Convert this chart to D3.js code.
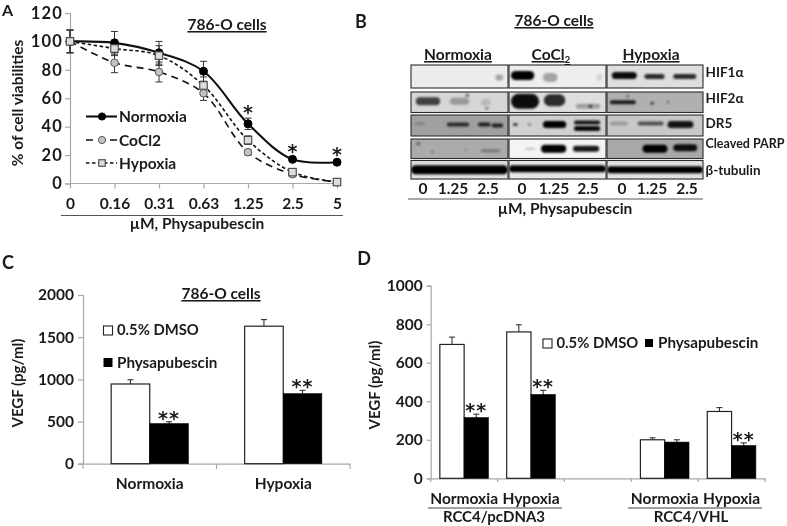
<!DOCTYPE html>
<html><head><meta charset="utf-8">
<script src="https://cdn.jsdelivr.net/npm/d3@7/dist/d3.min.js"></script>
<style>
html,body{margin:0;padding:0;background:#fff}
svg{display:block;filter:blur(0.4px)}
text{font-family:"Lato",sans-serif;font-weight:700;fill:#1a1a1a}
text.star{font-family:"DejaVu Sans",sans-serif}
</style></head><body>
<svg id="c" width="787" height="526"></svg>
<script>
// Panel A
const doses = ["0","0.16","0.31","0.63","1.25","2.5","5"];
const normoxiaV = [100,99,92,79,42,17,15];
const normoxiaE = [8,8,8,7,4,1.5,1.5];
const cocl2V = [100,85,78.5,63.5,22,6.5,1];
const cocl2E = [8,7,7,5,2,1,1];
const hypoxiaV = [100,95,90,69,30.5,8,1];
const hypoxiaE = [8,5,7,6,3,1,1];
const viabilityTicks = [0,20,40,60,80,100,120];
const starDoses = ["1.25","2.5","5"];
// Panel B
const blotGroups = ["Normoxia","CoCl2","Hypoxia"];
const blotRows = ["HIF1α","HIF2α","DR5","Cleaved PARP","β-tubulin"];
const blotLanes = ["0","1.25","2.5"];
const blotShades = [[236,238,222],[214,222,176],[160,208,200],[171,244,168],[224,232,226]];
// row, group, from, to (fraction of gel width), darkness, thickness, vertical offset
const blotBands = [
 [0,0,.87,.95,.3,6,1],
 [0,1,.02,.26,1,9,-1],[0,1,.35,.5,.3,9,1],[0,1,.9,.96,.1,7,1],
 [0,2,.05,.31,.95,7,-1],[0,2,.39,.6,.8,5,0],[0,2,.69,.93,.8,5,0],
 [1,0,.05,.3,.7,8,-1],[1,0,.4,.6,.28,7,-1],[1,0,.72,.82,.13,7,0],[1,0,.56,.6,.5,3,-7],[1,0,.76,.8,.5,2,6],
 [1,1,.02,.31,.95,15,-1],[1,1,.36,.58,.8,12,-2],[1,1,.69,.94,.28,5,4],[1,1,.82,.86,.6,3,4],
 [1,2,.03,.3,.85,4,0],[1,2,.45,.49,.6,3,1],[1,2,.2,.23,.6,2,-6],[1,2,.62,.65,.5,2,0],
 [2,0,.04,.14,.25,2,-2],[2,0,.37,.6,.75,4,-1],[2,0,.69,.82,.8,4,-1],[2,0,.83,.95,.8,4,0],
 [2,1,.04,.09,.7,3,-1],[2,1,.19,.23,.4,2,-1],[2,1,.35,.59,1,7,-1],[2,1,.67,.94,.9,4,-3],[2,1,.67,.94,.95,5,3],
 [2,2,.03,.22,.22,4,-2],[2,2,.32,.59,.6,4,-2],[2,2,.63,.9,.9,7,-1],
 [3,0,.72,.92,.3,3,2],[3,0,.05,.1,.4,3,-5],[3,0,.2,.24,.3,2,3],[3,0,.55,.58,.25,2,1],
 [3,1,.17,.27,.22,2,0],[3,1,.33,.59,1,8,0],[3,1,.66,.93,.9,6,0],
 [3,2,.37,.63,1,8,0],[3,2,.69,.94,.92,7,-1],
 [4,0,0,1,1,9,0],[4,1,0,1,1,7,-1],[4,2,0,1,1,7,0]
];
// Panel C
const vegfCats = ["Normoxia","Hypoxia"];
const vegfCDmso = [945,1630];
const vegfCDmsoE = [50,78];
const vegfCPhy = [475,830];
const vegfCPhyE = [22,40];
const vegfCTicks = [0,500,1000,1500,2000];
// Panel D
const vegfDCats = ["pcN","pcH","gap","vhlN","vhlH"];
const vegfDLabels = ["Normoxia","Hypoxia","","Normoxia","Hypoxia"];
const vegfDDmso = [695,760,null,200,347];
const vegfDDmsoE = [38,37,null,10,20];
const vegfDPhy = [315,435,null,188,170];
const vegfDPhyE = [18,22,null,12,14];
const vegfDTicks = [0,200,400,600,800,1000];

const svg = d3.select("#c");
const defs = svg.append("defs");
defs.append("filter").attr("id","bl").attr("x","-30%").attr("y","-150%").attr("width","160%").attr("height","400%")
  .append("feGaussianBlur").attr("stdDeviation",1.2);

function label(x,y,s,size,opt={}){
  const t = svg.append("text").attr("x",x).attr("y",y).text(s)
    .attr("font-size",size).attr("text-anchor",opt.anchor||"middle");
  if(opt.underline) t.style("text-decoration","underline");
  if(opt.rotate) t.attr("transform",`rotate(-90 ${x} ${y})`);
  if(opt.ls) t.style("letter-spacing",opt.ls+"px");
  if(opt.cls) t.attr("class",opt.cls);
  return t;
}
function rule(x1,x2,y,c="#444",w=1){svg.append("line").attr("x1",x1).attr("x2",x2).attr("y1",y).attr("y2",y).attr("stroke",c).attr("stroke-width",w);}
function styleAxis(g,size,ls){
  g.selectAll(".domain,.tick line").attr("stroke","#a8a8a8").attr("stroke-width",1.2);
  g.selectAll("text").attr("font-size",size).attr("fill","#1a1a1a").style("font-family",'"Lato",sans-serif').style("font-weight",700);
  if(ls) g.selectAll("text").style("letter-spacing",ls+"px");
}
function errBars(g,x,yScale,v,e,cap=3,col="#222"){
  if(v==null) return;
  const p=d3.path();
  p.moveTo(x,yScale(v+e));p.lineTo(x,yScale(v-e));
  p.moveTo(x-cap,yScale(v+e));p.lineTo(x+cap,yScale(v+e));
  p.moveTo(x-cap,yScale(v-e));p.lineTo(x+cap,yScale(v-e));
  g.append("path").attr("d",p.toString()).attr("fill","none").attr("stroke",col).attr("stroke-width",1);
}

// ---------- A
const ax = d3.scalePoint().domain(doses).range([70,337]);
const ay = d3.scaleLinear().domain([0,120]).range([183.5,13]);
const gA = svg.append("g");
const ayG = gA.append("g").attr("transform","translate(70,0)").call(d3.axisLeft(ay).tickValues(viabilityTicks).tickSize(5).tickPadding(2));
styleAxis(ayG,16.5,1.2);
const axG = gA.append("g").attr("transform","translate(0,183.5)").call(d3.axisBottom(ax).tickSize(5).tickPadding(9));
styleAxis(axG,15.5);
axG.select(".domain").attr("d","M70,0H337");
const series = [
 {v:normoxiaV,e:normoxiaE,dash:null,w:2.1},
 {v:cocl2V,e:cocl2E,dash:"7,5",w:1.6},
 {v:hypoxiaV,e:hypoxiaE,dash:"3.5,2.5",w:1.6}
];
const line = d3.line().x((d,i)=>ax(doses[i])).y(d=>ay(d)).curve(d3.curveCatmullRom.alpha(.5));
series.forEach(s=>{ s.v.forEach((d,i)=>errBars(gA,ax(doses[i]),ay,d,s.e[i],3.5,"#333")); });
series.forEach(s=>{
  gA.append("path").attr("d",line(s.v)).attr("fill","none").attr("stroke","#111").attr("stroke-width",s.w).attr("stroke-dasharray",s.dash);
});
function mCircle(x,y,r,f,st){gA.append("circle").attr("cx",x).attr("cy",y).attr("r",r).attr("fill",f).attr("stroke",st).attr("stroke-width",1);}
function mSquare(x,y,a){gA.append("rect").attr("x",x-a/2).attr("y",y-a/2).attr("width",a).attr("height",a).attr("fill","#ddd").attr("stroke","#444").attr("stroke-width",1.1);}
normoxiaV.forEach((d,i)=>mCircle(ax(doses[i]),ay(d),4,"#000","#000"));
cocl2V.forEach((d,i)=>mCircle(ax(doses[i]),ay(d),3.8,"#c4c4c4","#555"));
hypoxiaV.forEach((d,i)=>mSquare(ax(doses[i]),ay(d),7.5));
starDoses.forEach(d=>{
  const i=doses.indexOf(d);
  label(ax(d),ay(normoxiaV[i]+normoxiaE[i])+1,"*",19,{cls:"star"});
});
label(227,30,"786-O cells",15.5,{underline:true});
label(23,103,"% of cell viabilities",15.5,{rotate:true});
label(197,229,"µM, Physapubescin",15.5);
rule(61,343,215.5,"#555",1);
label(2,16,"A",16,{anchor:"start"});
// legend A
const lx=[86,117];
gA.append("line").attr("x1",lx[0]).attr("x2",lx[1]).attr("y1",116.5).attr("y2",116.5).attr("stroke","#111").attr("stroke-width",2.1);
mCircle(102,116.5,3.6,"#000","#000");
gA.append("line").attr("x1",lx[0]).attr("x2",lx[1]).attr("y1",140).attr("y2",140).attr("stroke","#111").attr("stroke-width",1.6).attr("stroke-dasharray","7,17,7");
mCircle(102,140,3.6,"#c4c4c4","#555");
gA.append("line").attr("x1",lx[0]).attr("x2",lx[1]).attr("y1",163).attr("y2",163).attr("stroke","#111").attr("stroke-width",1.6).attr("stroke-dasharray","3.5,2.5");
mSquare(102,163,6.5);
["Normoxia","CoCl2","Hypoxia"].forEach((s,i)=>label(119,[121.5,145.5,168.5][i],s,15.5,{anchor:"start"}));

// ---------- B
const gelX = [[411,508],[509,606],[607,703]];
const rowFrame = [[65,88],[92,112.5],[115,136],[139,158.5],[160.5,179]];
const gB = svg.append("g");
blotRows.forEach((r,ri)=>{
  blotGroups.forEach((g,gi)=>{
    const [x0,x1]=gelX[gi],[y0,y1]=rowFrame[ri];
    const sc=d3.scaleLinear().domain([0,1]).range([x0,x1]);
    const id=`clip${ri}${gi}`;
    defs.append("clipPath").attr("id",id).append("rect").attr("x",x0).attr("y",y0).attr("width",x1-x0).attr("height",y1-y0);
    const cell=gB.append("g").attr("clip-path",`url(#${id})`);
    const sh=blotShades[ri][gi];
    cell.append("rect").attr("x",x0).attr("y",y0).attr("width",x1-x0).attr("height",y1-y0).attr("fill",d3.rgb(sh,sh,sh));
    blotBands.filter(b=>b[0]===ri&&b[1]===gi).forEach(b=>{
      const th=b[5];
      cell.append("rect").attr("x",sc(b[2])).attr("width",sc(b[3])-sc(b[2]))
        .attr("y",(y0+y1)/2-th/2+b[6]).attr("height",th).attr("rx",th/2)
        .attr("fill","#000").attr("opacity",b[4]).attr("filter","url(#bl)");
    });
    gB.append("rect").attr("x",x0).attr("y",y0).attr("width",x1-x0).attr("height",y1-y0).attr("fill","none").attr("stroke","#2a2a2a").attr("stroke-width",1.1);
  });
});
const blotCenters = [[423,453,488],[522,554,588],[622,652,687]];
const groupX = [458,551,651];
blotGroups.forEach((g,gi)=>{
  const t=label(groupX[gi],60,"",15.5,{underline:true});
  if(g==="CoCl2"){t.append("tspan").text("CoCl");t.append("tspan").text("2").attr("font-size",10).attr("dy",3);}
  else t.text(g);
  blotLanes.forEach((l,li)=>label(blotCenters[gi][li],194,l,15.5));
});
const rowLabelY=[77,103,128,148,175];
blotRows.forEach((r,i)=>label(705.5,rowLabelY[i],r,i===3?12.5:13.5,{anchor:"start"}));
rule(408,703,199,"#555",1);
label(565,214,"µM, Physapubescin",15.5);
label(554,26,"786-O cells",15.5,{underline:true});
label(361,28,"B",18);

// ---------- C
const cx = d3.scaleBand().domain(vegfCats).range([83,350]);
const cbar = d3.scaleBand().domain(["d","p"]).range([0,cx.bandwidth()]).paddingInner(0).paddingOuter(.73);
const cy = d3.scaleLinear().domain([0,2000]).range([463.7,295]);
const gC = svg.append("g");
const cyG=gC.append("g").attr("transform","translate(83,0)").call(d3.axisLeft(cy).tickValues(vegfCTicks).tickFormat(d3.format("d")).tickSize(5).tickPadding(4));
styleAxis(cyG,15.5);
const cxG=gC.append("g").attr("transform","translate(0,463.7)").call(d3.axisBottom(cx).tickSize(0).tickPadding(14));
styleAxis(cxG,15.5);
[83,cx("Hypoxia"),350].forEach(x=>gC.append("line").attr("x1",x).attr("x2",x).attr("y1",463.7).attr("y2",469).attr("stroke","#a8a8a8").attr("stroke-width",1.2));
function bars(g,xs,sub,y,cats,dm,dmE,ph,phE,stars,sw){
  cats.forEach((c,i)=>{
    if(dm[i]==null) return;
    const x=xs(c);
    errBars(g,x+sub("d")+sub.bandwidth()/2,y,dm[i],dmE[i],sw);
    errBars(g,x+sub("p")+sub.bandwidth()/2,y,ph[i],phE[i],sw);
    g.append("rect").attr("x",x+sub("d")).attr("y",y(dm[i])).attr("width",sub.bandwidth()).attr("height",y(0)-y(dm[i])).attr("fill","#fff").attr("stroke","#222").attr("stroke-width",1.2);
    g.append("rect").attr("x",x+sub("p")).attr("y",y(ph[i])).attr("width",sub.bandwidth()).attr("height",y(0)-y(ph[i])).attr("fill","#000").attr("stroke","#000").attr("stroke-width",.6);
    if(stars[i]) label(x+sub("p")+sub.bandwidth()/2,y(ph[i]+phE[i])+3,"**",19,{ls:1,cls:"star"});
  });
}
bars(gC,cx,cbar,cy,vegfCats,vegfCDmso,vegfCDmsoE,vegfCPhy,vegfCPhyE,[1,1],3);
label(221,299,"786-O cells",15.5,{underline:true});
label(23,383,"VEGF (pg/ml)",15,{rotate:true});
label(2,269,"C",18,{anchor:"start"});
gC.append("rect").attr("x",103.5).attr("y",326).attr("width",9).attr("height",9).attr("fill","#fff").attr("stroke","#222").attr("stroke-width",1.1);
gC.append("rect").attr("x",103.5).attr("y",358).attr("width",9).attr("height",9).attr("fill","#000");
label(117,335,"0.5% DMSO",14.8,{anchor:"start"});
label(117,368,"Physapubescin",15.2,{anchor:"start"});

// ---------- D
const dx = d3.scaleBand().domain(vegfDCats).range([430.7,765]);
const dbar = d3.scaleBand().domain(["d","p"]).range([0,dx.bandwidth()]).paddingInner(0).paddingOuter(.376);
const dy = d3.scaleLinear().domain([0,1000]).range([478.3,285.7]);
const gD = svg.append("g");
const dyG=gD.append("g").attr("transform","translate(430.7,0)").call(d3.axisLeft(dy).tickValues(vegfDTicks).tickFormat(d3.format("d")).tickSize(4).tickPadding(4));
styleAxis(dyG,15.5);
const dxG=gD.append("g").attr("transform","translate(0,478.3)").call(d3.axisBottom(dx).tickSize(0).tickFormat(()=>""));
styleAxis(dxG,15);
vegfDCats.forEach(c=>gD.append("line").attr("x1",dx(c)).attr("x2",dx(c)).attr("y1",478.3).attr("y2",482).attr("stroke","#a8a8a8").attr("stroke-width",1.2));
gD.append("line").attr("x1",765).attr("x2",765).attr("y1",478.3).attr("y2",482).attr("stroke","#a8a8a8").attr("stroke-width",1.2);
bars(gD,dx,dbar,dy,vegfDCats,vegfDDmso,vegfDDmsoE,vegfDPhy,vegfDPhyE,[1,1,0,0,1],3);
vegfDLabels.forEach((l,i)=>{ if(l) label(dx(vegfDCats[i])+dx.bandwidth()/2,504,l,15.5); });
rule(428,562,508,"#444",1);
rule(628,762,508,"#444",1);
label(494,522,"RCC4/pcDNA3",15);
label(691,522,"RCC4/VHL",15);
label(380,385,"VEGF (pg/ml)",15,{rotate:true});
label(364,265,"D",18);
gD.append("rect").attr("x",543).attr("y",339).attr("width",9).attr("height",9).attr("fill","#fff").attr("stroke","#222").attr("stroke-width",1.1);
gD.append("rect").attr("x",645).attr("y",339).attr("width",8).attr("height",8).attr("fill","#000");
label(556.5,348,"0.5% DMSO",14.8,{anchor:"start"});
label(658,348,"Physapubescin",15.2,{anchor:"start"});
</script>
</body></html>
